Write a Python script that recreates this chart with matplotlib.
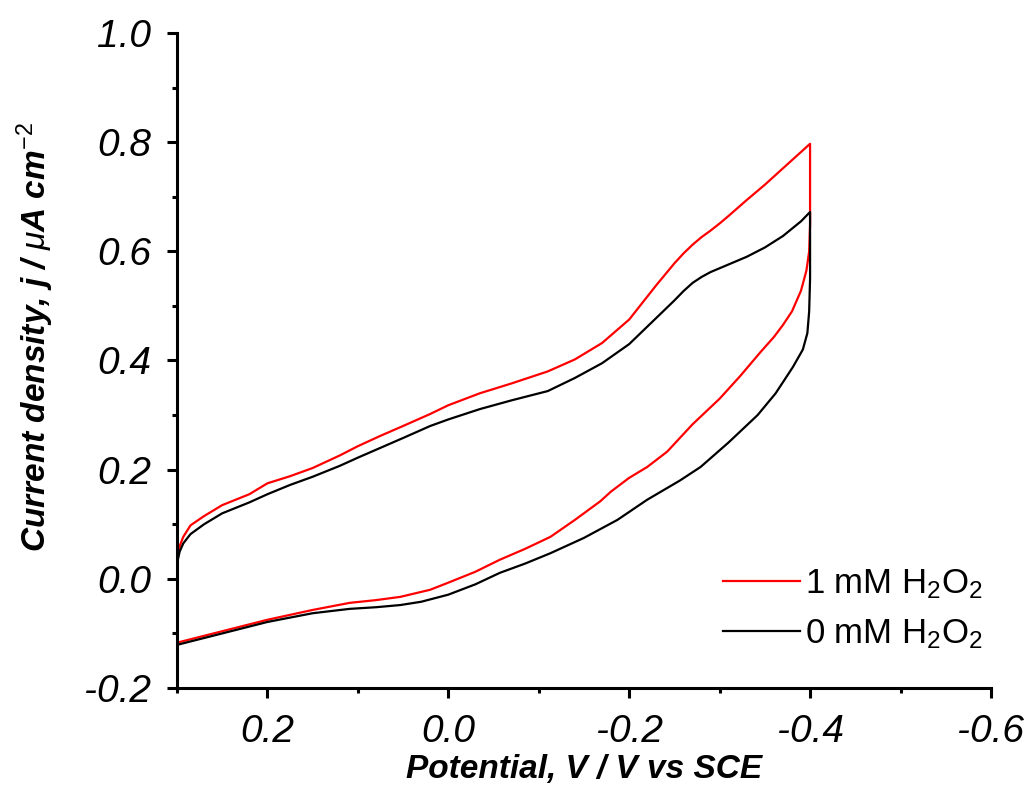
import matplotlib
matplotlib.use("Agg")
import matplotlib.pyplot as plt
from matplotlib.ticker import MultipleLocator, FormatStrFormatter

plt.rcParams['font.family'] = ['Liberation Sans', 'DejaVu Sans']
plt.rcParams['mathtext.fontset'] = 'custom'
plt.rcParams['mathtext.rm'] = 'Liberation Sans'
plt.rcParams['mathtext.it'] = 'Liberation Sans:italic'
plt.rcParams['mathtext.bf'] = 'Liberation Sans:bold:italic'

# Cathodic sweep (0.3 V -> -0.4 V)
E_fwd = [0.300, 0.299, 0.297, 0.293, 0.285, 0.270, 0.250, 0.220, 0.200, 0.175,
         0.150, 0.120, 0.100, 0.075, 0.050, 0.020, 0.000, -0.035, -0.070, -0.110,
         -0.140, -0.170, -0.200, -0.230, -0.250, -0.260, -0.270, -0.280, -0.290,
         -0.300, -0.310, -0.330, -0.350, -0.370, -0.390, -0.400]
j_fwd_1mM = [0.000, 0.040, 0.060, 0.077, 0.098, 0.115, 0.135, 0.155, 0.175, 0.188,
             0.203, 0.226, 0.243, 0.262, 0.280, 0.302, 0.318, 0.340, 0.358, 0.380,
             0.402, 0.432, 0.475, 0.538, 0.578, 0.596, 0.612, 0.626, 0.638,
             0.651, 0.665, 0.694, 0.722, 0.752, 0.782, 0.797]
j_fwd_0mM = [0.010, 0.035, 0.050, 0.065, 0.082, 0.100, 0.120, 0.140, 0.155, 0.172,
             0.187, 0.207, 0.222, 0.240, 0.258, 0.280, 0.292, 0.311, 0.327, 0.344,
             0.368, 0.395, 0.430, 0.478, 0.510, 0.527, 0.542, 0.553, 0.562,
             0.569, 0.576, 0.590, 0.607, 0.628, 0.655, 0.672]

# Anodic sweep (-0.4 V -> 0.3 V)
E_rev_1mM = [-0.400, -0.400, -0.399, -0.396, -0.390, -0.380, -0.370, -0.360, -0.345,
             -0.323, -0.300, -0.270, -0.242, -0.220, -0.200, -0.180, -0.168, -0.140,
             -0.113, -0.085, -0.057, -0.030, 0.000, 0.020, 0.053, 0.080, 0.109,
             0.150, 0.175, 0.200, 0.250, 0.300]
j_rev_1mM = [0.797, 0.650, 0.600, 0.565, 0.528, 0.490, 0.465, 0.443, 0.415,
             0.372, 0.330, 0.283, 0.233, 0.205, 0.185, 0.160, 0.142, 0.108,
             0.077, 0.055, 0.035, 0.013, -0.007, -0.020, -0.033, -0.039, -0.044,
             -0.057, -0.066, -0.075, -0.096, -0.117]
E_rev_0mM = [-0.400, -0.400, -0.399, -0.397, -0.392, -0.381, -0.362, -0.342, -0.310,
             -0.279, -0.256, -0.220, -0.187, -0.150, -0.113, -0.085, -0.057, -0.030,
             0.000, 0.030, 0.053, 0.080, 0.109, 0.150, 0.175, 0.200, 0.250, 0.300]
j_rev_0mM = [0.672, 0.550, 0.490, 0.450, 0.420, 0.388, 0.340, 0.300, 0.250,
             0.205, 0.180, 0.145, 0.108, 0.075, 0.047, 0.028, 0.011, -0.010,
             -0.029, -0.042, -0.048, -0.052, -0.055, -0.063, -0.071, -0.079, -0.100, -0.121]

x_ticks = [0.2, 0.0, -0.2, -0.4, -0.6]
y_ticks = [-0.2, 0.0, 0.2, 0.4, 0.6, 0.8, 1.0]

fig = plt.figure(figsize=(10.33, 8.10), dpi=100)
ax = fig.add_axes([0.1713, 0.1506, 0.9593 - 0.1713, 0.9593 - 0.1506])

ax.plot(E_fwd + E_rev_1mM, j_fwd_1mM + j_rev_1mM, color='#ff0000', lw=1.6,
        label=r'1 mM H$_2$O$_2$')
ax.plot(E_fwd + E_rev_0mM, j_fwd_0mM + j_rev_0mM, color='black', lw=1.6,
        label=r'0 mM H$_2$O$_2$')

ax.set_xlim(0.3, -0.6)
ax.set_ylim(-0.2, 1.0)
ax.set_xticks(x_ticks)
ax.set_yticks(y_ticks)
ax.xaxis.set_minor_locator(MultipleLocator(0.1))
ax.yaxis.set_minor_locator(MultipleLocator(0.1))
ax.xaxis.set_major_formatter(FormatStrFormatter('%.1f'))
ax.yaxis.set_major_formatter(FormatStrFormatter('%.1f'))

for side in ('top', 'right'):
    ax.spines[side].set_visible(False)
for side in ('left', 'bottom'):
    ax.spines[side].set_linewidth(2.2)

ax.tick_params(which='major', direction='out', length=7, width=2.2, pad=11.5)
ax.tick_params(which='minor', direction='out', length=3.5, width=2.2)
for lab in ax.get_xticklabels() + ax.get_yticklabels():
    lab.set_fontsize(28)
    lab.set_fontstyle('italic')

ax.set_xlabel('Potential, V / V vs SCE', fontsize=24, fontweight='bold',
              fontstyle='italic')
ax.set_ylabel(r'Current density, j / $\mu$A cm$^{-2}$', fontsize=24,
              fontweight='bold', fontstyle='italic')
ax.xaxis.set_label_coords(0.5, -0.101)
ax.yaxis.set_label_coords(-0.149, 0.536)

ax.legend(loc='lower right', bbox_to_anchor=(1.007, 0.036), frameon=False,
          fontsize=25, handlelength=2.2, handletextpad=0.15, labelspacing=0.45,
          borderaxespad=0.0)

fig.savefig('out.png', dpi=100)
